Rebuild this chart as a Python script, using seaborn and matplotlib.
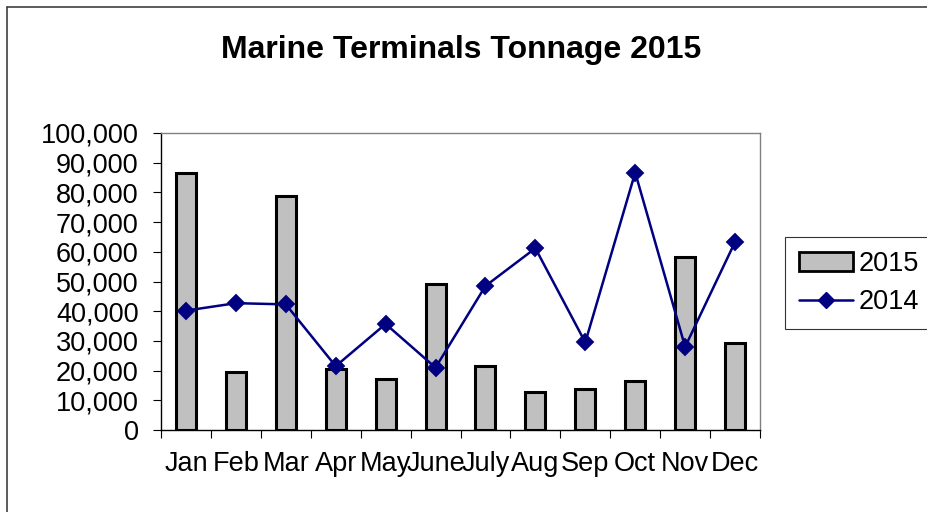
import matplotlib
matplotlib.use("Agg")
import matplotlib.pyplot as plt
import seaborn as sns
import pandas as pd
import numpy as np
from matplotlib.ticker import FuncFormatter, FixedLocator
from matplotlib.lines import Line2D

# data
months = ['Jan', 'Feb', 'Mar', 'Apr', 'May', 'June', 'July', 'Aug', 'Sep', 'Oct', 'Nov', 'Dec']
tonnage_2015 = [86700, 19500, 78800, 20700, 17100, 49200, 21400, 12700, 13700, 16400, 58100, 29200]
tonnage_2014 = [40200, 42700, 42300, 21500, 35700, 21000, 48500, 61200, 29500, 86700, 28000, 63300]

df = pd.DataFrame({'month': months, '2015': tonnage_2015, '2014': tonnage_2014})

sns.set_theme(style='white', rc={'text.color': 'black', 'xtick.color': 'black',
                                 'ytick.color': 'black', 'axes.labelcolor': 'black'})
plt.rcParams['font.family'] = ['Liberation Sans', 'DejaVu Sans']

fig = plt.figure(figsize=(9.27, 5.12), dpi=100)
ax = fig.add_axes([161 / 927, 82 / 512, 599 / 927, 297 / 512])

sns.barplot(data=df, x='month', y='2015', order=months, color='#C0C0C0',
            edgecolor='black', linewidth=2.2, width=0.4, saturation=1, ax=ax)
sns.pointplot(data=df, x='month', y='2014', order=months, color='#000080',
              markers='D', markersize=8.5, linewidth=1.8, ax=ax)

ax.set_xlim(-0.5, 11.5)
ax.set_ylim(0, 100000)
ax.set_xlabel('')
ax.set_ylabel('')

ax.yaxis.set_major_locator(FixedLocator(np.arange(0, 100001, 10000)))
ax.yaxis.set_major_formatter(FuncFormatter(lambda v, p: f'{int(v):,}'))
ax.tick_params(axis='y', which='major', direction='out', length=6, width=0.8,
               color='black', labelsize=19.5, labelcolor='black', pad=10, left=True)

# category-boundary ticks on x
ax.set_xticks(np.arange(-0.5, 12, 1), minor=True)
ax.tick_params(axis='x', which='minor', direction='out', length=6, width=0.8,
               color='black', bottom=True)
ax.tick_params(axis='x', which='major', length=0, labelsize=19.5, labelcolor='black', pad=15)

for side in ['left', 'bottom']:
    ax.spines[side].set_color('black')
    ax.spines[side].set_linewidth(1)
for side in ['top', 'right']:
    ax.spines[side].set_color('#808080')
    ax.spines[side].set_linewidth(1)

fig.text(461 / 927, 1 - 50 / 512, 'Marine Terminals Tonnage 2015',
         ha='center', va='center', fontsize=23, fontweight='bold', color='black')

handles = [plt.Rectangle((0, 0), 1, 1, facecolor='#C0C0C0', edgecolor='black', linewidth=2),
           Line2D([0], [0], color='#000080', marker='D', markersize=8.5, linewidth=1.8)]
leg = fig.legend(handles, ['2015', '2014'], loc='center left',
                 bbox_to_anchor=(785 / 927, 1 - 283 / 512), fontsize=19.5,
                 frameon=True, fancybox=False, handlelength=2.0, handletextpad=0.2,
                 borderpad=0.5, labelspacing=0.45, borderaxespad=0)
leg.get_frame().set_edgecolor('black')
leg.get_frame().set_linewidth(0.8)

# outer chart border (left and top edges visible)
fig.add_artist(Line2D([7 / 927, 7 / 927], [0, 1 - 7 / 512], color='#404040', linewidth=1.2,
                      transform=fig.transFigure))
fig.add_artist(Line2D([7 / 927, 1], [1 - 7 / 512, 1 - 7 / 512], color='#404040', linewidth=1.2,
                      transform=fig.transFigure))

fig.savefig('out.png', dpi=100)
